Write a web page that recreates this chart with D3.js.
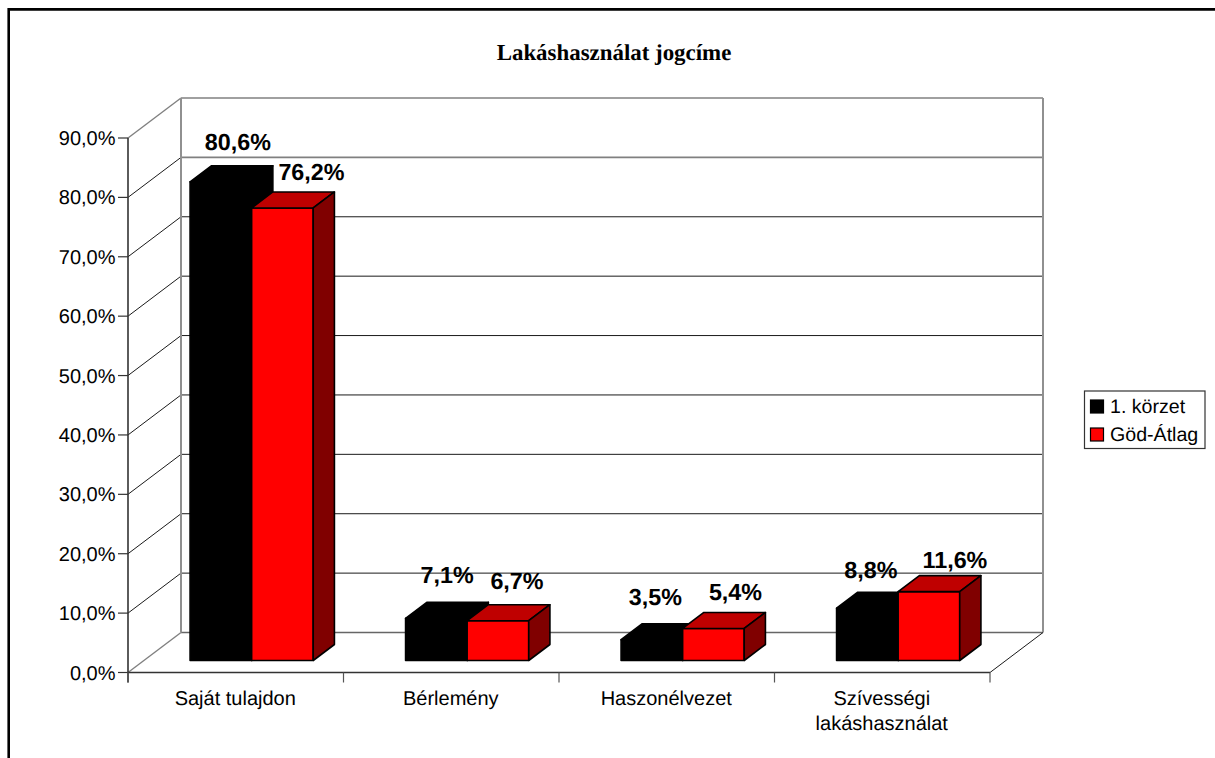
<!DOCTYPE html>
<html>
<head>
<meta charset="utf-8">
<script src="https://cdn.jsdelivr.net/npm/d3@7/dist/d3.min.js"></script>
<style>
html,body{margin:0;padding:0;background:#fff;overflow:hidden}
svg{display:block}
text{font-family:"Liberation Sans",Arial,sans-serif;fill:#000;text-rendering:geometricPrecision}
</style>
</head>
<body>
<svg id="c" width="1215" height="758"></svg>
<script>
const title = "Lakáshasználat jogcíme";
const categories = ["Saját tulajdon", "Bérlemény", "Haszonélvezet", "Szívességi\nlakáshasználat"];
const seriesNames = ["1. körzet", "Göd-Átlag"];
const korzet = [80.6, 7.1, 3.5, 8.8];
const godAtlag = [76.2, 6.7, 5.4, 11.6];
const tickValues = [0, 10, 20, 30, 40, 50, 60, 70, 80, 90];
// hand placement of the value labels, relative to each bar's top centre
const korzetNudge = [[17, -32], [10.7, -35], [3.5, -35], [3.5, -30]];
const godNudge = [[29, -28], [19, -32], [22, -28], [26, -24]];

const svg = d3.select("#c");
const fmt = v => v.toFixed(1).replace(".", ",");
const x0 = 128, x1 = 990, yB = 672.5, yT = 138;
const depthX = 53, depthY = -40;
const y = d3.scaleLinear().domain([0, 90]).range([yB, yT]);
const x = d3.scaleBand().domain(categories).range([x0, x1]);
const bw = x.bandwidth() * 2 / 3.5;
const barW = bw / 2;
const gap = (x.bandwidth() - bw) / 2;
const zFront = 0.3, zDepth = 0.4;
const fx = zFront * depthX, fy = zFront * depthY;
const bdx = zDepth * depthX, bdy = zDepth * depthY;
const sub = d3.scaleBand().domain(seriesNames).range([0, bw]);

// outer frame
svg.append("path").attr("d", "M8.7 758V9.4H1215").attr("fill", "none").attr("stroke", "#000").attr("stroke-width", 2.6);

svg.append("text").attr("x", 614).attr("y", 60).attr("text-anchor", "middle")
  .style("font-family", '"Liberation Serif","Times New Roman",serif')
  .style("font-weight", "bold").style("font-size", "22.9px").text(title);

// walls
const grid = svg.append("g").attr("fill", "none");
tickValues.forEach(t => {
  const yy = y(t);
  const edge = t === 0 || t === 90 || t === 80;
  const c = edge ? "#808080" : "#1a1a1a";
  const sw = (t === 0 || t === 90) ? 1.6 : (t === 80 ? 1.6 : 1);
  grid.append("line").attr("x1", x0 + depthX).attr("x2", x1 + depthX)
    .attr("y1", yy + depthY).attr("y2", yy + depthY)
    .attr("stroke", t === 0 ? "#666" : c).attr("stroke-width", sw);
  grid.append("line").attr("x1", x0).attr("x2", x0 + depthX)
    .attr("y1", yy).attr("y2", yy + depthY)
    .attr("stroke", (t === 0 || t === 90) ? "#808080" : "#1a1a1a").attr("stroke-width", (t === 0 || t === 90) ? 1.4 : 1);
});
grid.append("line").attr("x1", x0 + depthX).attr("x2", x0 + depthX)
  .attr("y1", y(0) + depthY).attr("y2", y(90) + depthY).attr("stroke", "#909090").attr("stroke-width", 2);
grid.append("line").attr("x1", x1 + depthX).attr("x2", x1 + depthX)
  .attr("y1", y(0) + depthY).attr("y2", y(90) + depthY).attr("stroke", "#909090").attr("stroke-width", 2);
grid.append("line").attr("x1", x1).attr("x2", x1 + depthX)
  .attr("y1", y(0)).attr("y2", y(0) + depthY).attr("stroke", "#1a1a1a").attr("stroke-width", 1);

// axes
const axL = svg.append("g");
axL.append("line").attr("x1", x0).attr("x2", x0).attr("y1", yT).attr("y2", yB + 10).attr("stroke", "#333").attr("stroke-width", 1.6);
tickValues.forEach(t => {
  axL.append("line").attr("x1", x0 - 10).attr("x2", x0).attr("y1", y(t)).attr("y2", y(t)).attr("stroke", "#333").attr("stroke-width", 1.2);
  axL.append("text").attr("x", 115.5).attr("y", y(t) + 7).attr("text-anchor", "end")
    .style("font-size", "20px").text(fmt(t) + "%");
});
const axB = svg.append("g");
axB.append("line").attr("x1", x0).attr("x2", x1).attr("y1", yB).attr("y2", yB).attr("stroke", "#333").attr("stroke-width", 1.6);
[...categories.map(c => x(c)), x1].forEach(p => {
  axB.append("line").attr("x1", p).attr("x2", p).attr("y1", yB).attr("y2", yB + 10).attr("stroke", "#555").attr("stroke-width", 1.2);
});
categories.forEach(c => {
  c.split("\n").forEach((ln, i) => {
    axB.append("text").attr("x", x(c) + x.bandwidth() / 2 - 0.5).attr("y", 705 + i * 25)
      .attr("text-anchor", "middle").style("font-size", "20px").text(ln);
  });
});

// bars
const series = [
  {name: seriesNames[0], values: korzet, nudge: korzetNudge, front: "#000000", top: "#000000", side: "#000000"},
  {name: seriesNames[1], values: godAtlag, nudge: godNudge, front: "#ff0000", top: "#bf0000", side: "#800000"}
];
const bars = svg.append("g").attr("stroke", "#000").attr("stroke-width", 1.6).attr("stroke-linejoin", "round");
const poly = pts => "M" + pts.map(p => p.join(" ")).join("L") + "Z";
const labels = [];
categories.forEach((c, i) => {
  series.forEach(s => {
    const v = s.values[i];
    const l = x(c) + gap + fx + sub(s.name), r = l + barW;
    const b = y(0) + fy, t = y(v) + fy;
    bars.append("path").attr("d", poly([[l, b], [r, b], [r, t], [l, t]])).attr("fill", s.front);
    bars.append("path").attr("d", poly([[l, t], [r, t], [r + bdx, t + bdy], [l + bdx, t + bdy]])).attr("fill", s.top);
    bars.append("path").attr("d", poly([[r, b], [r + bdx, b + bdy], [r + bdx, t + bdy], [r, t]])).attr("fill", s.side);
    labels.push({x: (l + r) / 2 + s.nudge[i][0], y: t + s.nudge[i][1], v});
  });
});
svg.append("g").selectAll("text").data(labels).join("text")
  .attr("x", d => d.x).attr("y", d => d.y).attr("text-anchor", "middle")
  .style("font-size", "23.3px").style("font-weight", "bold").text(d => fmt(d.v) + "%");

// legend
const lg = svg.append("g");
lg.append("rect").attr("x", 1084.5).attr("y", 391).attr("width", 120.5).attr("height", 57.5)
  .attr("fill", "#fff").attr("stroke", "#333").attr("stroke-width", 1.2);
series.forEach((s, i) => {
  lg.append("rect").attr("x", 1090.5).attr("y", 400 + i * 28).attr("width", 13).attr("height", 13)
    .attr("fill", s.front).attr("stroke", "#000").attr("stroke-width", 1.2);
  lg.append("text").attr("x", 1110).attr("y", 412.5 + i * 28).style("font-size", "19.6px").text(s.name);
});
</script>
</body>
</html>
